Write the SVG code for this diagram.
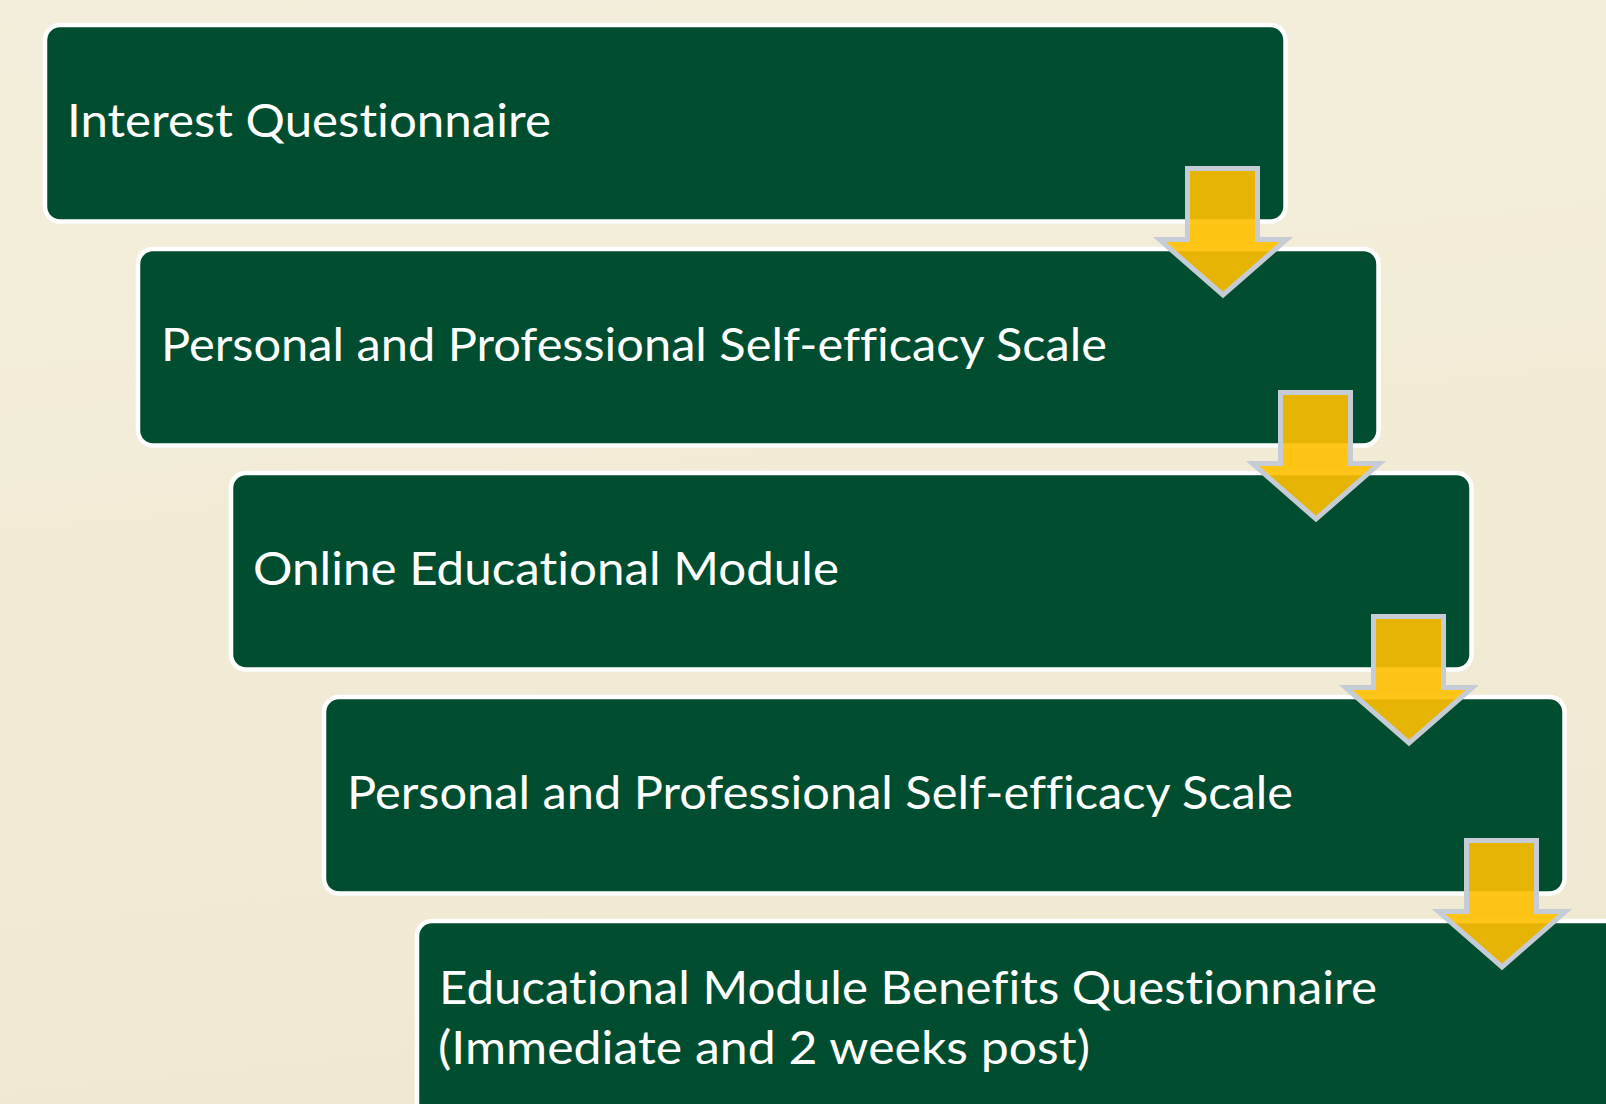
<svg xmlns="http://www.w3.org/2000/svg" width="1606" height="1104" viewBox="0 0 1606 1104">
  <defs>
    <linearGradient id="bg" x1="0" y1="0" x2="0.15" y2="1">
      <stop offset="0" stop-color="#F3EEDB"/>
      <stop offset="1" stop-color="#F0E9D2"/>
    </linearGradient>
    <!-- down arrow, drawn around its own centre line x=0 -->
    <path id="downArrow" d="M -35 0 L 35 0 L 35 71 L 64 71 L 0.5 126.5 L -63 71 L -35 71 Z"/>
    <style>
      .step rect { fill: #014D2F; stroke: #FFFFFF; stroke-width: 4.5; }
      .step text { fill: #FFFFFF; font-family: "Lato", "Open Sans", "Liberation Sans", sans-serif; font-size: 46px; font-variant-ligatures: none; font-feature-settings: "liga" 0, "dlig" 0, "clig" 0; }
      .arrow use { fill: #FFC000; fill-opacity: 0.9; stroke: #C6CCD5; stroke-width: 5; stroke-linejoin: miter; stroke-miterlimit: 10; }
    </style>
  </defs>

  <rect width="1606" height="1104" fill="url(#bg)"/>

  <!-- process steps, each offset by (93, 224) -->
  <g id="step1" class="step">
    <rect x="45" y="25" width="1240.5" height="196.5" rx="15" ry="15"/>
    <text x="67" y="137" textLength="484" lengthAdjust="spacingAndGlyphs">Interest Questionnaire</text>
  </g>
  <g id="step2" class="step">
    <rect x="138" y="249" width="1240.5" height="196.5" rx="15" ry="15"/>
    <text x="161" y="361" textLength="946" lengthAdjust="spacingAndGlyphs">Personal and Professional Self-efficacy Scale</text>
  </g>
  <g id="step3" class="step">
    <rect x="231" y="473" width="1240.5" height="196.5" rx="15" ry="15"/>
    <text x="253" y="585" textLength="586" lengthAdjust="spacingAndGlyphs">Online Educational Module</text>
  </g>
  <g id="step4" class="step">
    <rect x="324" y="697" width="1240.5" height="196.5" rx="15" ry="15"/>
    <text x="347" y="809" textLength="946" lengthAdjust="spacingAndGlyphs">Personal and Professional Self-efficacy Scale</text>
  </g>
  <g id="step5" class="step">
    <rect x="417" y="921" width="1240.5" height="196.5" rx="15" ry="15"/>
    <text x="439" y="1004" textLength="938" lengthAdjust="spacingAndGlyphs">Educational Module Benefits Questionnaire</text>
    <text x="438" y="1064" textLength="652" lengthAdjust="spacingAndGlyphs">(Immediate and 2 weeks post)</text>
  </g>

  <!-- connectors between steps -->
  <g id="connectors" class="arrow">
    <use href="#downArrow" transform="translate(1222.5 168.5)"/>
    <use href="#downArrow" transform="translate(1315.5 392.5)"/>
    <use href="#downArrow" transform="translate(1408.5 616.5)"/>
    <use href="#downArrow" transform="translate(1501.5 840.5)"/>
  </g>
</svg>
